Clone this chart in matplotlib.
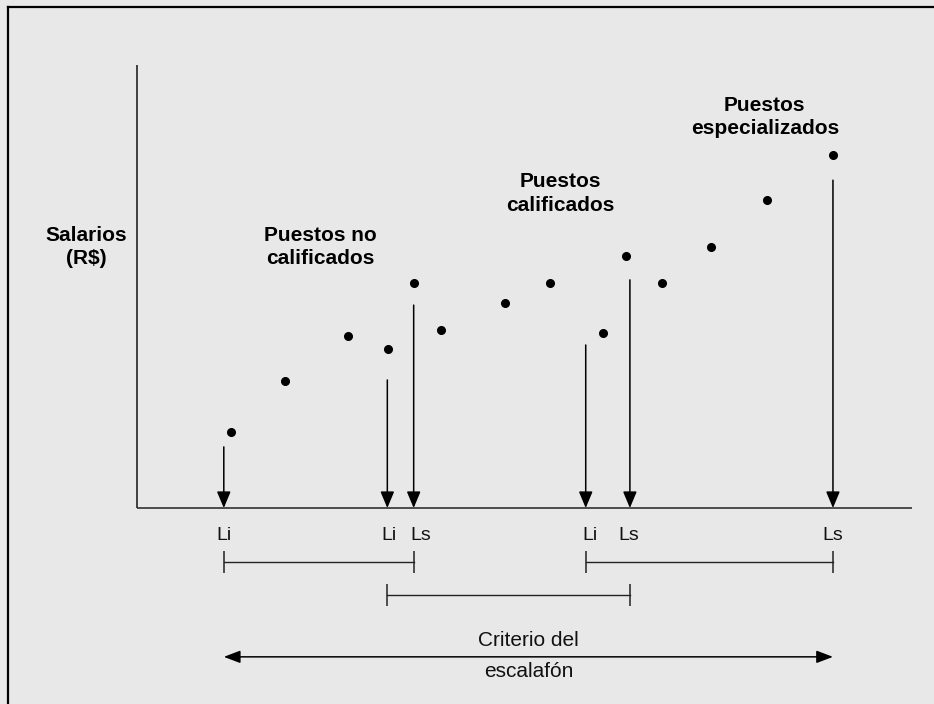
import matplotlib.pyplot as plt
from matplotlib.lines import Line2D

# puestos (posicion en el escalafon) y salarios
job_pos = [12.1, 19.1, 27.2, 32.4, 35.7, 39.2, 47.5, 53.3, 60.1, 63.1, 67.7, 74.1, 81.3, 89.8]
salaries = [17.2, 28.7, 38.8, 35.9, 50.8, 40.2, 46.3, 50.8, 39.5, 56.9, 50.8, 58.9, 69.5, 79.7]

# limites (Li / Ls) marcados con flechas
limit_pos = [11.2, 32.3, 35.7, 57.9, 63.6, 89.8]
limit_top = [13.8, 28.9, 45.8, 36.8, 51.5, 74.0]
limit_labels = ['Li', 'Li', 'Ls', 'Li', 'Ls', 'Ls']
label_shift = [0, 2, 7, 4, -1, 0]  # px, para separar pares Li Ls

# rangos de cada grupo de puestos
ranges = [(11.2, 35.7), (32.3, 63.6), (57.9, 89.8)]
range_y = [-12.2, -19.6, -12.2]

groups = ['Puestos no\ncalificados', 'Puestos\ncalificados', 'Puestos\nespecializados']
group_x = [23.6, 54.6, 81.0]
group_y = [58.9, 71.0, 88.3]

W, H = 934, 704
x0, y0 = 137, 508
sx, sy = 7.75, 4.43

plt.rcParams['font.family'] = ['Liberation Sans', 'DejaVu Sans']
fig = plt.figure(figsize=(W / 100, H / 100), dpi=100, facecolor='#e8e8e8')
ax = fig.add_axes([0, 0, 1, 1])
ax.set_facecolor('#e8e8e8')
ax.set_xlim(-x0 / sx, (W - x0) / sx)
ax.set_ylim((y0 - H) / sy, y0 / sy)
ax.axis('off')

# marco
fig.add_artist(Line2D([8 / W, 8 / W], [0, 1 - 7 / H], color='black', lw=1.6))
fig.add_artist(Line2D([8 / W, 1], [1 - 7 / H, 1 - 7 / H], color='black', lw=1.6))

# ejes
ax.plot([0, 0], [0, 100], color='#333333', lw=1.3, solid_capstyle='butt')
ax.plot([0, 100], [0, 0], color='#222222', lw=1.1, solid_capstyle='butt')

ax.plot(job_pos, salaries, 'o', color='black', markersize=5.5)

for x, top, lab, dx in zip(limit_pos, limit_top, limit_labels, label_shift):
    ax.annotate('', xy=(x, 0), xytext=(x, top),
                arrowprops=dict(arrowstyle='-|>,head_length=1.0,head_width=0.42',
                                mutation_scale=10, color='black', lw=1.1,
                                shrinkA=0, shrinkB=0))
    ax.annotate(lab, xy=(x, -6.3), xytext=(dx * 0.72, 0), textcoords='offset points',
                ha='center', va='center', fontsize=14, color='#111111')

for (a, b), y in zip(ranges, range_y):
    ax.plot([a, b], [y, y], color='#222222', lw=1.0)
    ax.plot([a, b], [y, y], '|', color='#222222', markersize=16, markeredgewidth=1.1)

ax.annotate('', xy=(11.2, -33.6), xytext=(89.8, -33.6),
            arrowprops=dict(arrowstyle='<|-|>,head_length=1.0,head_width=0.38',
                            mutation_scale=10, color='black', lw=1.1,
                            shrinkA=0, shrinkB=0))
ax.text(50.5, -29.8, 'Criterio del', ha='center', va='center', fontsize=15, color='#111111')
ax.text(50.5, -37.0, 'escalafón', ha='center', va='center', fontsize=15, color='#111111')

ax.text(-6.6, 58.9, 'Salarios\n(R$)', ha='center', va='center', fontsize=15,
        fontweight='bold', linespacing=1.28)
for g, gx, gy in zip(groups, group_x, group_y):
    ax.text(gx, gy, g, ha='center', va='center', fontsize=15,
            fontweight='bold', linespacing=1.28)

fig.savefig('out.png', dpi=100, facecolor=fig.get_facecolor())
